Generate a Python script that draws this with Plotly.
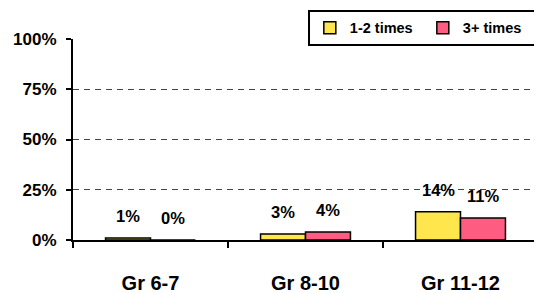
import plotly.graph_objects as go

categories = ["Gr 6-7", "Gr 8-10", "Gr 11-12"]
series_names = ["1-2 times", "3+ times"]
values_12 = [1, 3, 14]
values_3p = [0, 4, 11]
series_values = [values_12, values_3p]
colors = ["#FFE64D", "#FF5C82"]
y_ticks = [0, 25, 50, 75, 100]
y_tick_labels = ["0%", "25%", "50%", "75%", "100%"]

font = "Liberation Sans, Arial, sans-serif"

fig = go.Figure()
for name, vals, col in zip(series_names, series_values, colors):
    fig.add_trace(go.Bar(
        x=categories, y=vals, name=f"<b>{name}</b>",
        marker=dict(color=col, line=dict(color="black", width=1.5)),
    ))

shifts = [-22.5, 22.5]
for j, vals in enumerate(series_values):
    for c, v in zip(categories, vals):
        fig.add_annotation(x=c, y=v, text=f"<b>{v}%</b>", showarrow=False,
                           xshift=shifts[j], yshift=22, yanchor="middle",
                           font=dict(family=font, size=16.5, color="black"))

# page body has an 8px default margin, so the figure is sized to fit what remains
fig.update_layout(
    width=534, height=285,
    margin=dict(l=65, r=4, t=31, b=53, autoexpand=False),
    paper_bgcolor="white", plot_bgcolor="white",
    barmode="group", bargap=0.42, bargroupgap=0,
    font=dict(family=font, size=13, color="black"),
    showlegend=True,
    legend=dict(orientation="h", x=0.505, xanchor="left", y=1.145, yanchor="top",
                bgcolor="white", bordercolor="black", borderwidth=2,
                font=dict(family=font, size=14.5, color="black"),
                itemwidth=30, entrywidthmode="pixels", entrywidth=68,
                traceorder="normal"),
    xaxis=dict(showline=True, linecolor="black", linewidth=2,
               ticks="outside", tickson="boundaries", ticklen=6, tickwidth=2, tickcolor="black",
               tickfont=dict(family=font, size=20, color="black"),
               ticklabelstandoff=24, showgrid=False),
    yaxis=dict(range=[0, 100], tickvals=y_ticks, ticktext=[f"<b>{t}</b>" for t in y_tick_labels],
               showline=True, linecolor="black", linewidth=2,
               ticks="outside", ticklen=5, tickwidth=2, tickcolor="black",
               tickfont=dict(family=font, size=17, color="black"),
               ticklabelstandoff=6,
               showgrid=True, gridcolor="#444444", gridwidth=1, griddash="6px,5px",
               zeroline=False),
)
fig.update_xaxes(ticktext=[f"<b>{c}</b>" for c in categories], tickvals=categories)
fig.write_html("out.html")
